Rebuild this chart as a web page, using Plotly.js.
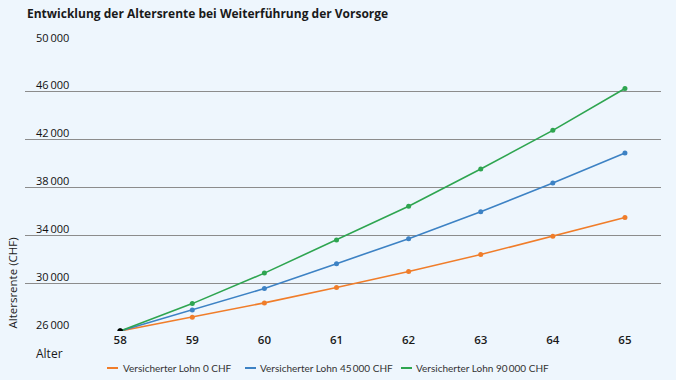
<!DOCTYPE html>
<html>
<head>
<meta charset="utf-8">
<script src="https://cdn.plot.ly/plotly-3.0.1.min.js"></script>
<style>html,body{margin:0;padding:0;background:#EEF6FD;}#chart{width:676px;height:380px;}</style>
</head>
<body>
<div id="chart"></div>
<script>
const ages = [58, 59, 60, 61, 62, 63, 64, 65];
const lohn0 = [26000, 27150, 28350, 29630, 30970, 32390, 33920, 35500];
const lohn45000 = [26000, 27760, 29550, 31630, 33720, 35980, 38370, 40880];
const lohn90000 = [26000, 28290, 30840, 33610, 36430, 39540, 42780, 46280];
const seriesNames = ["Versicherter Lohn 0 CHF", "Versicherter Lohn 45\u2009000 CHF", "Versicherter Lohn 90\u2009000 CHF"];
const seriesColors = ["#F07D2A", "#3D82C4", "#2EA550"];
const yTickVals = [26000, 30000, 34000, 38000, 42000, 46000, 50000];
const yTickText = ["26\u2009000", "30\u2009000", "34\u2009000", "38\u2009000", "42\u2009000", "46\u2009000", "50\u2009000"];
const xTickText = ["58", "59", "60", "61", "62", "63", "64", "65"];
const titleText = "Entwicklung der Altersrente bei Weiterführung der Vorsorge";
const yTitle = "Altersrente (CHF)";
const xTitle = "Alter";

const font = "'Open Sans', 'Noto Sans', sans-serif";
const legFont = "Lato, 'Open Sans', sans-serif";
const W = 676, ML = 25, MR = 15, PW = W - ML - MR;
const px = p => (p - ML) / PW;

const seriesData = [lohn0, lohn45000, lohn90000];
const traces = seriesData.map((vals, i) => ({
  x: ages, y: vals, type: 'scatter', mode: 'lines+markers',
  name: seriesNames[i], line: {color: seriesColors[i], width: 1.6},
  marker: {color: seriesColors[i], size: 5}, showlegend: false, hoverinfo: 'none'
}));
traces.push({x: [ages[0]], y: [lohn0[0]], type: 'scatter', mode: 'markers',
  marker: {color: '#000000', size: 5.5}, showlegend: false, hoverinfo: 'none'});

const annotations = [
  {text: yTitle, xref: 'paper', yref: 'y', x: 0, xshift: -13, y: 26000, textangle: -90,
   xanchor: 'center', yanchor: 'bottom', showarrow: false, font: {family: font, size: 11.5, color: '#1a1a1a'}},
  {text: xTitle, xref: 'paper', yref: 'paper', x: 0, xshift: 9, y: 0, yshift: -22,
   xanchor: 'left', yanchor: 'middle', showarrow: false, font: {family: font, size: 12, color: '#1a1a1a'}}
];
yTickVals.forEach((v, i) => {
  annotations.push({text: yTickText[i], xref: 'paper', yref: 'y', x: 0, xshift: 9, y: v, yshift: 7,
    xanchor: 'left', yanchor: 'middle', showarrow: false, font: {family: font, size: 11, color: '#111111'}});
});
const legendLineX = [107, 245, 401];
const legendTextX = [121, 258, 414];
const shapes = [];
seriesNames.forEach((n, i) => {
  annotations.push({text: n, xref: 'paper', yref: 'paper', x: px(legendTextX[i]), y: 0, yshift: -37,
    xanchor: 'left', yanchor: 'middle', showarrow: false, font: {family: legFont, size: 10, color: '#333333'}});
  shapes.push({type: 'line', xref: 'paper', yref: 'paper', x0: px(legendLineX[i]), x1: px(legendLineX[i] + 11),
    y0: -37 / 287, y1: -37 / 287, line: {color: seriesColors[i], width: 2}});
});

const layout = {
  width: 676, height: 380,
  margin: {l: ML, r: MR, t: 44, b: 49, pad: 0},
  paper_bgcolor: '#EEF6FD', plot_bgcolor: '#EEF6FD',
  title: {text: '<b>' + titleText + '</b>', x: 27 / W, xref: 'container', xanchor: 'left',
    y: 1 - 14 / 380, yref: 'container', yanchor: 'middle', font: {family: font, size: 12, color: '#1a1a1a'}},
  xaxis: {range: [56.68, 65.5], tickvals: ages, ticktext: xTickText, showgrid: false, zeroline: false,
    showline: false, ticks: '', tickfont: {family: font, size: 11.5, color: '#1a1a1a', weight: 600}, fixedrange: true},
  yaxis: {range: [26000, 50000], tickvals: yTickVals, showticklabels: false, showgrid: true,
    gridcolor: '#8C8C8C', gridwidth: 1, zeroline: false, showline: false, ticks: '', fixedrange: true},
  annotations: annotations,
  shapes: shapes,
  showlegend: false
};
Plotly.newPlot('chart', traces, layout, {displayModeBar: false, staticPlot: true});
</script>
</body>
</html>
